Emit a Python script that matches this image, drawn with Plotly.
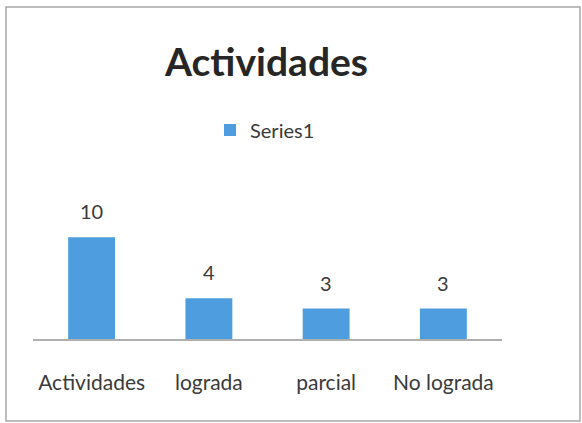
import plotly.graph_objects as go

categories = ["Actividades", "lograda", "parcial", "No lograda"]
values = [10, 4, 3, 3]
series_name = "Series1"

W, H = 582, 423
L, R, T, B = 33, 80, 217, 84
pw, ph = W - L - R, H - T - B

def px_to_paper_x(x):
    return (x - L) / pw

def px_to_paper_y(y):
    return (H - B - y) / ph

bar_color = "#4d9ddf"

fig = go.Figure()
fig.add_trace(go.Bar(
    x=categories, y=values, name=series_name,
    marker=dict(color=bar_color, line=dict(width=0)),
    width=0.4, showlegend=True,
))

for c, v in zip(categories, values):
    fig.add_annotation(x=c, y=v, xref="x", yref="y", text=str(v),
                       showarrow=False, yanchor="bottom", yshift=12,
                       font=dict(family="Lato", size=20, color="#3a3a3a"))

fig.add_annotation(xref="paper", yref="paper",
                   x=px_to_paper_x(266), y=px_to_paper_y(61),
                   text="<b>Actividades</b>", showarrow=False,
                   xanchor="center", yanchor="middle",
                   font=dict(family="Lato", size=39, color="#262626"))

fig.add_shape(type="rect", xref="paper", yref="paper",
              x0=px_to_paper_x(6), x1=px_to_paper_x(580),
              y0=px_to_paper_y(421), y1=px_to_paper_y(7),
              line=dict(color="#a8a8a8", width=1.5), layer="below")

fig.update_layout(
    width=W, height=H,
    margin=dict(l=L, r=R, t=T, b=B),
    paper_bgcolor="white", plot_bgcolor="white",
    showlegend=True,
    legend=dict(x=px_to_paper_x(210), y=px_to_paper_y(130),
                xanchor="left", yanchor="middle",
                font=dict(family="Lato", size=20, color="#3a3a3a"),
                itemwidth=30, bgcolor="rgba(0,0,0,0)"),
    bargap=0.6,
    xaxis=dict(showline=True, linecolor="#b0b0b0", linewidth=1.5,
               ticks="", showgrid=False, zeroline=False,
               tickfont=dict(family="Lato", size=21, color="#3a3a3a"),
               ticklabelstandoff=24),
    yaxis=dict(range=[0, 12], visible=False, showgrid=False, zeroline=False),
)

fig.write_html("out.html", config={"displayModeBar": False},
               post_script="document.body.style.margin='0';")
